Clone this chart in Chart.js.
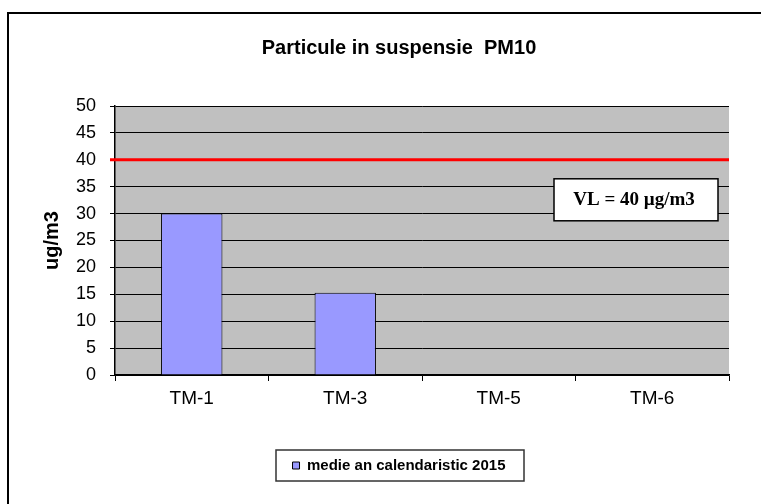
<!DOCTYPE html>
<html>
<head>
<meta charset="utf-8">
<title>Particule in suspensie PM10</title>
<script src="https://cdn.jsdelivr.net/npm/chart.js@4"></script>
<style>
  body { margin: 0; background: #fff; overflow: hidden; }
  #frame { position: absolute; left: 7px; top: 12px; width: 800px; height: 600px;
           border-left: 2px solid #000; border-top: 2px solid #000; }
  #box { position: absolute; left: 0; top: 0; width: 800px; height: 504px; }
</style>
</head>
<body>
<div id="frame"></div>
<div id="box"><canvas id="barChart" width="800" height="504"></canvas></div>
<script>
let stations = ["TM-1", "TM-3", "TM-5", "TM-6"]
let yearlyMean = [30, 15.3, null, null]
let yTicks = [0, 5, 10, 15, 20, 25, 30, 35, 40, 45, 50]
let limitValue = 40
let limitLabel = "VL = 40 \u00b5g/m3"
let yTitle = "ug/m3"

const sans = '"Liberation Sans", Arial, sans-serif'

// gray plot background
const plotBackground = {
    id: 'plotBackground',
    beforeDraw(chart) {
        const a = chart.chartArea
        const ctx = chart.ctx
        ctx.save()
        ctx.fillStyle = '#c0c0c0'
        ctx.fillRect(a.left, a.top, a.right - a.left, a.bottom - a.top)
        ctx.restore()
    }
}

// red limit line, VL label box, y title and the frame round the legend
const limitLine = {
    id: 'limitLine',
    afterDatasetsDraw(chart) {
        const a = chart.chartArea
        const ctx = chart.ctx
        const y = chart.scales.y.getPixelForValue(limitValue)
        ctx.save()
        ctx.strokeStyle = '#ff0000'
        ctx.lineWidth = 3
        ctx.beginPath()
        ctx.moveTo(a.left - 5, y)
        ctx.lineTo(a.right, y)
        ctx.stroke()

        const bx = a.right - 175, by = y + 19, bw = 164, bh = 42
        ctx.fillStyle = '#fff'
        ctx.fillRect(bx, by, bw, bh)
        ctx.strokeStyle = '#000'
        ctx.lineWidth = 1.5
        ctx.strokeRect(bx, by, bw, bh)
        ctx.fillStyle = '#000'
        ctx.font = 'bold 19px "Liberation Serif", "Times New Roman", serif'
        ctx.textAlign = 'center'
        ctx.textBaseline = 'middle'
        ctx.fillText(limitLabel, bx + bw / 2 - 2, by + bh / 2)
        ctx.restore()
    },
    afterDraw(chart) {
        const a = chart.chartArea
        const ctx = chart.ctx
        ctx.save()
        ctx.translate(52, (a.top + a.bottom) / 2)
        ctx.rotate(-Math.PI / 2)
        ctx.fillStyle = '#000'
        ctx.font = 'bold 20px ' + sans
        ctx.textAlign = 'center'
        ctx.textBaseline = 'middle'
        ctx.fillText(yTitle, 0, 0)
        ctx.restore()

        ctx.save()
        ctx.strokeStyle = '#333'
        ctx.lineWidth = 1.5
        ctx.strokeRect(276, 450, 248, 31)
        ctx.restore()
    }
}

let ctx = document.getElementById('barChart').getContext('2d')
let myChart = new Chart(ctx, {
    type: 'bar',
    data: {
        labels: stations,
        datasets: [{
            label: 'medie an calendaristic 2015',
            data: yearlyMean,
            backgroundColor: '#9999ff',
            borderColor: '#000',
            borderWidth: 1,
            categoryPercentage: 1,
            barPercentage: 0.4
        }]
    },
    options: {
        responsive: false,
        animation: false,
        layout: { padding: { left: 69, right: 71, bottom: 21 } },
        plugins: {
            title: {
                display: true,
                text: 'Particule in suspensie  PM10',
                color: '#000',
                font: { family: sans, size: 20, weight: 'bold' },
                padding: { top: 36, bottom: 46 }
            },
            legend: {
                position: 'bottom',
                labels: {
                    color: '#000',
                    boxWidth: 7,
                    boxHeight: 7,
                    padding: 8,
                    font: { family: sans, size: 15, weight: 'bold' }
                }
            },
            tooltip: { enabled: false }
        },
        scales: {
            x: {
                grid: { offset: true, drawOnChartArea: false, drawTicks: true, tickLength: 6, color: '#000' },
                border: { color: '#000', width: 1.5 },
                ticks: { color: '#000', padding: 6, font: { family: sans, size: 19 } },
                afterFit(scale) { scale.height = 75 }
            },
            y: {
                min: 0,
                max: 50,
                afterBuildTicks(scale) { scale.ticks = yTicks.map(v => ({ value: v })) },
                grid: { color: '#000', tickLength: 5 },
                border: { color: '#000', width: 1.5 },
                ticks: { color: '#000', padding: 14, font: { family: sans, size: 18 } },
                afterFit(scale) { scale.width = 46 }
            }
        }
    },
    plugins: [plotBackground, limitLine]
})
</script>
</body>
</html>
